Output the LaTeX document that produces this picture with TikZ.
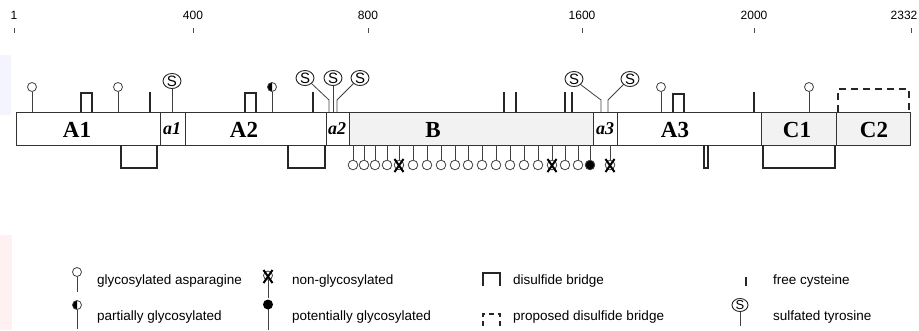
\documentclass[tikz,border=0pt]{standalone}
\usepackage{fontspec}
\setmainfont{Liberation Serif}
\setsansfont{Liberation Sans}
\usetikzlibrary{shapes.geometric}

% glycan attached above the chain
\newcommand\glycup[2][white]{%
  \draw[stem] (#2,112) -- (#2,91.5);
  \draw[stem,fill=#1] (#2,87) circle[radius=4.5];}
% glycan attached below the chain
\newcommand\glycdn[2][white]{%
  \draw[stem] (#2,145) -- (#2,160.2);
  \draw[stem,fill=#1] (#2,165) circle[radius=4.8];}
% non-glycosylated site: open circle struck by a bold cross
\newcommand\nonglyc[1]{%
  \glycdn{#1}
  \draw[cross] (#1-4.5,159) -- (#1+4.5,172) (#1+4.5,159) -- (#1-4.5,172);}
% free cysteine above the chain
\newcommand\freecys[1]{\draw[cys] (#1,112) -- (#1,92);}
% half-filled circle (left half black) centred at (#1,#2)
\newcommand\halfglyc[2]{%
  \fill[black] (#1,#2-4.5) arc[start angle=270,end angle=90,radius=4.5] -- cycle;
  \draw[stem] (#1,#2) circle[radius=4.5];}

\begin{document}
\begin{tikzpicture}[x=1pt,y=-1pt,
  bar/.style={draw=black!80,line width=0.9pt},
  stem/.style={draw=black!75,line width=0.8pt},
  bridge/.style={draw=black!85,line width=1.5pt},
  cys/.style={draw=black!85,line width=1.1pt},
  cross/.style={draw=black,line width=2pt},
  seglab/.style={font=\bfseries\fontsize{23}{23}\selectfont},
  linklab/.style={font=\bfseries\itshape\fontsize{18}{18}\selectfont},
  ticklab/.style={font=\sffamily\fontsize{12}{12}\selectfont},
  leglab/.style={font=\sffamily\fontsize{13.5}{13.5}\selectfont,anchor=west,inner sep=0pt},
  sulf/.style={ellipse,draw=black!85,line width=0.9pt,fill=white,inner sep=0pt,
    minimum width=18pt,minimum height=15pt,font=\sffamily\fontsize{15}{15}\selectfont},
  sulfsmall/.style={sulf,minimum width=16pt,minimum height=13pt,font=\sffamily\fontsize{13}{13}\selectfont}
]
\useasboundingbox (0,0) rectangle (919,330);

% faint tint along the left edge
\fill[blue!6,opacity=0.7] (0,55) rectangle (11,115);
\fill[red!8,opacity=0.7] (0,235) rectangle (12,330);

% ---- residue scale ----
\foreach \x/\t in {14/1,193/400,368/800,582/1600,754/2000,904/2332}{
  \node[ticklab] (t\t) at (\x,15) {\t};
}
\foreach \x in {14,193,368,582,754,911}{
  \draw[black!70,line width=0.7pt] (\x,28) -- (\x,33);
}

% ---- domain bar ----
\draw[bar,fill=white]   (16,112) rectangle (160,145);
\draw[bar,fill=white]   (160,112) rectangle (185,145);
\draw[bar,fill=white]   (185,112) rectangle (326,145);
\draw[bar,fill=white]   (326,112) rectangle (349,145);
\draw[bar,fill=black!5] (349,112) rectangle (593,145);
\draw[bar,fill=white]   (593,112) rectangle (617,145);
\draw[bar,fill=white]   (617,112) rectangle (761,145);
\draw[bar,fill=black!5] (761,112) rectangle (836,145);
\draw[bar,fill=black!5] (836,112) rectangle (910,145);

\node[seglab]  (lA1) at (77,130) {A1};
\node[linklab] (la1) at (172,129) {a1};
\node[seglab]  (lA2) at (244,130) {A2};
\node[linklab] (la2) at (337,129) {a2};
\node[seglab]  (lB)  at (433,130) {B};
\node[linklab] (la3) at (605,129) {a3};
\node[seglab]  (lA3) at (675,130) {A3};
\node[seglab]  (lC1) at (797,130) {C1};
\node[seglab]  (lC2) at (874,130) {C2};

% ---- features above the chain ----
\glycup{32}
\glycup{118}
\glycup{661}
\glycup{809}
% partially glycosylated site
\draw[stem] (272,112) -- (272,91.5);
\halfglyc{272}{87}

\foreach \x in {150,313,504,516,565,572,754}{\freecys{\x}}

% disulfide bridges above
\draw[bridge] (81,112) -- (81,93) -- (92,93) -- (92,112);
\draw[bridge] (245,112) -- (245,93) -- (256,93) -- (256,112);
\draw[bridge] (673,112) -- (673,94) -- (684,94) -- (684,112);
\draw[bridge,dash pattern=on 7pt off 5pt] (838,112) -- (838,89) -- (909,89) -- (909,112);

% sulfated tyrosines
\node[sulf] (s1) at (172,81) {S};
\draw[stem] (s1.south) -- (172,112);
\node[sulf] (s2) at (305,78) {S};
\node[sulf] (s3) at (333,78) {S};
\node[sulf] (s4) at (360,78) {S};
\draw[stem] (s2.south east) -- (329,100) -- (329,112);
\draw[stem] (s3.south) -- (333,112);
\draw[stem] (s4.south west) -- (337,100) -- (337,112);
\node[sulf] (s5) at (574,79) {S};
\node[sulf] (s6) at (630,79) {S};
\draw[stem] (s5.south east) -- (601,100) -- (601,112);
\draw[stem] (s6.south west) -- (608,100) -- (608,112);

% ---- features below the chain ----
\draw[bridge] (121,145) -- (121,168) -- (157,168) -- (157,145);
\draw[bridge] (288,145) -- (288,168) -- (325,168) -- (325,145);
\draw[bridge] (704,145) -- (704,168) -- (708,168) -- (708,145);
\draw[bridge] (763,145) -- (763,168) -- (835,168) -- (835,145);

\foreach \x in {353,364,375,387,413,427,441,455,468,482,496,510,524,538,565,578}{\glycdn{\x}}
\nonglyc{399}
\nonglyc{552}
\glycdn[black]{590}
\nonglyc{610}

% ---- legend ----
\draw[stem] (77,276.5) -- (77,292);
\draw[stem,fill=white] (77,272) circle[radius=4.5];
\node[leglab] (g1) at (97,281) {glycosylated asparagine};

\draw[stem] (77,309.5) -- (77,329);
\halfglyc{77}{305}
\node[leglab] (g2) at (97,317) {partially glycosylated};

\draw[stem] (268,280) -- (268,298);
\draw[stem,fill=white] (268,275.5) circle[radius=4.5];
\draw[cross] (263.5,270) -- (272.5,283) (272.5,270) -- (263.5,283);
\node[leglab] (g3) at (292,281) {non-glycosylated};

\draw[stem] (268,309) -- (268,330);
\fill[black] (268,304.5) circle[radius=5];
\node[leglab] (g4) at (292,317) {potentially glycosylated};

\draw[bridge] (483,286) -- (483,273) -- (500,273) -- (500,286);
\node[leglab] (g5) at (513,281) {disulfide bridge};
\draw[bridge,dash pattern=on 5pt off 4pt] (483,326) -- (483,314) -- (500,314) -- (500,326);
\node[leglab] (g6) at (513,317) {proposed disulfide bridge};

\draw[cys] (746,277) -- (746,286);
\node[leglab] (g7) at (773,281) {free cysteine};
\node[sulfsmall] (sl) at (740,305) {S};
\draw[stem] (sl.south) -- (740,326);
\node[leglab] (g8) at (773,317) {sulfated tyrosine};
\end{tikzpicture}
\end{document}
